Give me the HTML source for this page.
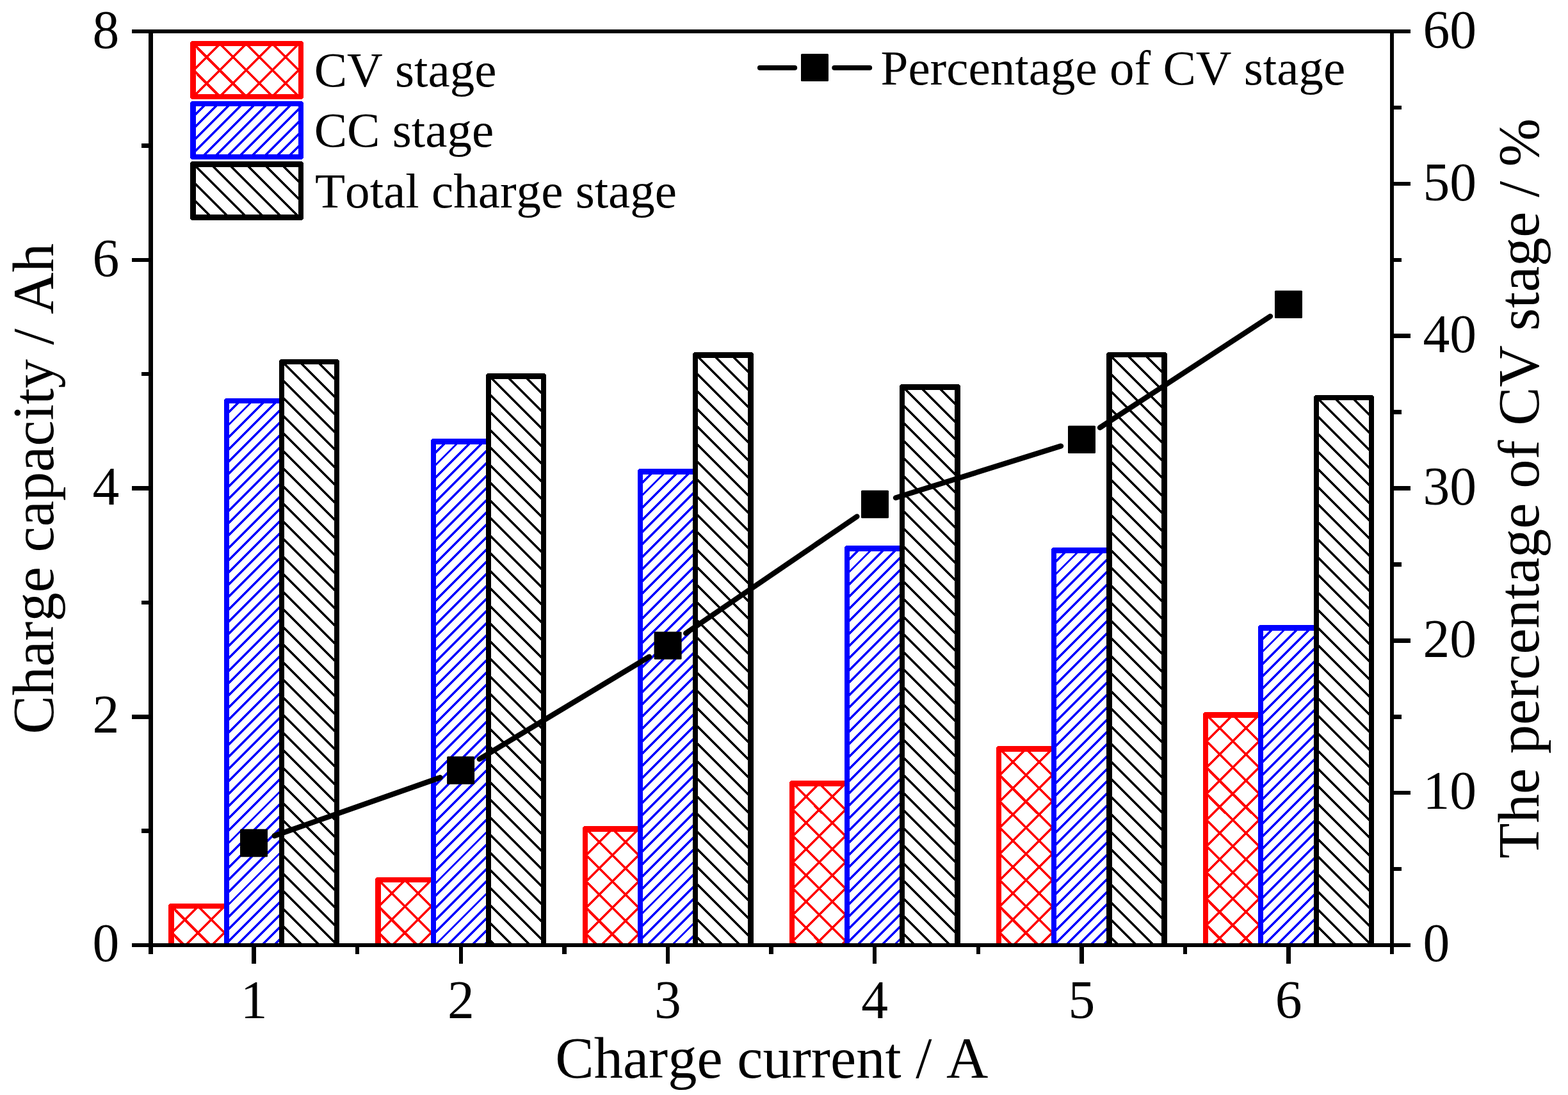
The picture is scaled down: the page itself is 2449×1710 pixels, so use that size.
<!DOCTYPE html>
<html lang="en"><head><meta charset="utf-8"><title>Charge capacity vs charge current</title>
<style>html,body{margin:0;padding:0;background:#fff}svg{display:block}</style></head>
<body>
<svg xmlns="http://www.w3.org/2000/svg" width="2449" height="1710" viewBox="0 0 2449 1710">
<rect width="2449" height="1710" fill="#fff"/>
<defs>
<clipPath id="c1"><rect x="272.00" y="1419.00" width="78.00" height="57.00"/></clipPath>
<clipPath id="c2"><rect x="595.00" y="1378.00" width="78.00" height="98.00"/></clipPath>
<clipPath id="c3"><rect x="918.00" y="1299.00" width="78.00" height="177.00"/></clipPath>
<clipPath id="c4"><rect x="1241.00" y="1228.00" width="78.00" height="248.00"/></clipPath>
<clipPath id="c5"><rect x="1564.00" y="1174.00" width="78.00" height="302.00"/></clipPath>
<clipPath id="c6"><rect x="1887.00" y="1121.00" width="78.00" height="355.00"/></clipPath>
<clipPath id="c7"><rect x="358.00" y="630.00" width="78.00" height="846.00"/></clipPath>
<clipPath id="c8"><rect x="681.00" y="694.00" width="78.00" height="782.00"/></clipPath>
<clipPath id="c9"><rect x="1004.00" y="741.00" width="78.00" height="735.00"/></clipPath>
<clipPath id="c10"><rect x="1327.00" y="861.00" width="78.00" height="615.00"/></clipPath>
<clipPath id="c11"><rect x="1650.00" y="864.00" width="79.00" height="612.00"/></clipPath>
<clipPath id="c12"><rect x="1973.00" y="985.00" width="79.00" height="491.00"/></clipPath>
<clipPath id="c13"><rect x="444.00" y="569.00" width="78.00" height="907.00"/></clipPath>
<clipPath id="c14"><rect x="767.00" y="592.00" width="78.00" height="884.00"/></clipPath>
<clipPath id="c15"><rect x="1090.00" y="559.00" width="78.00" height="917.00"/></clipPath>
<clipPath id="c16"><rect x="1413.00" y="609.00" width="78.00" height="867.00"/></clipPath>
<clipPath id="c17"><rect x="1737.00" y="558.00" width="77.00" height="918.00"/></clipPath>
<clipPath id="c18"><rect x="2060.00" y="625.00" width="78.00" height="851.00"/></clipPath>
<clipPath id="c19"><rect x="306.00" y="72.00" width="160.00" height="75.00"/></clipPath>
<clipPath id="c20"><rect x="306.00" y="166.00" width="160.00" height="75.00"/></clipPath>
<clipPath id="c21"><rect x="306.00" y="260.70" width="160.00" height="74.60"/></clipPath>
</defs>
<g shape-rendering="crispEdges">
<path d="M266.00 1454.30L293.70 1482.00M266.00 1413.30L334.70 1482.00M306.70 1413.00L356.00 1462.30M347.70 1413.00L356.00 1421.30M266.00 1417.70L270.70 1413.00M266.00 1458.70L311.70 1413.00M283.70 1482.00L352.70 1413.00M324.70 1482.00L356.00 1450.70" stroke="#ff0000" stroke-width="3.80" fill="none" clip-path="url(#c1)"/>
<path fill-rule="evenodd" fill="#ff0000" d="M265.60 1411.00L358.00 1411.00L358.00 1411.00L358.00 1476.00L358.00 1476.00L263.00 1476.00L263.00 1476.00L263.00 1413.60L265.60 1411.00ZM272.00 1419.00H350.00V1476.00H272.00Z"/>
<path d="M589.00 1454.30L616.70 1482.00M589.00 1413.30L657.70 1482.00M589.00 1372.30L679.00 1462.30M629.70 1372.00L679.00 1421.30M670.70 1372.00L679.00 1380.30M589.00 1376.70L593.70 1372.00M589.00 1417.70L634.70 1372.00M589.00 1458.70L675.70 1372.00M606.70 1482.00L679.00 1409.70M647.70 1482.00L679.00 1450.70" stroke="#ff0000" stroke-width="3.80" fill="none" clip-path="url(#c2)"/>
<path fill-rule="evenodd" fill="#ff0000" d="M588.60 1370.00L681.00 1370.00L681.00 1370.00L681.00 1476.00L681.00 1476.00L586.00 1476.00L586.00 1476.00L586.00 1372.60L588.60 1370.00ZM595.00 1378.00H673.00V1476.00H595.00Z"/>
<path d="M912.00 1455.30L938.70 1482.00M912.00 1414.30L979.70 1482.00M912.00 1373.30L1002.00 1463.30M912.00 1332.30L1002.00 1422.30M913.70 1293.00L1002.00 1381.30M954.70 1293.00L1002.00 1340.30M995.70 1293.00L1002.00 1299.30M912.00 1297.70L916.70 1293.00M912.00 1338.70L957.70 1293.00M912.00 1379.70L998.70 1293.00M912.00 1420.70L1002.00 1330.70M912.00 1461.70L1002.00 1371.70M932.70 1482.00L1002.00 1412.70M973.70 1482.00L1002.00 1453.70" stroke="#ff0000" stroke-width="3.80" fill="none" clip-path="url(#c3)"/>
<path fill-rule="evenodd" fill="#ff0000" d="M912.60 1290.00L1004.00 1290.00L1004.00 1290.00L1004.00 1476.00L1004.00 1476.00L910.00 1476.00L910.00 1476.00L910.00 1292.60L912.60 1290.00ZM918.00 1299.00H996.00V1476.00H918.00Z"/>
<path d="M1235.00 1466.30L1250.70 1482.00M1235.00 1425.30L1291.70 1482.00M1235.00 1384.30L1325.00 1474.30M1235.00 1343.30L1325.00 1433.30M1235.00 1302.30L1325.00 1392.30M1235.00 1261.30L1325.00 1351.30M1236.70 1222.00L1325.00 1310.30M1277.70 1222.00L1325.00 1269.30M1318.70 1222.00L1325.00 1228.30M1235.00 1226.70L1239.70 1222.00M1235.00 1267.70L1280.70 1222.00M1235.00 1308.70L1321.70 1222.00M1235.00 1349.70L1325.00 1259.70M1235.00 1390.70L1325.00 1300.70M1235.00 1431.70L1325.00 1341.70M1235.00 1472.70L1325.00 1382.70M1266.70 1482.00L1325.00 1423.70M1307.70 1482.00L1325.00 1464.70" stroke="#ff0000" stroke-width="3.80" fill="none" clip-path="url(#c4)"/>
<path fill-rule="evenodd" fill="#ff0000" d="M1235.60 1219.00L1327.00 1219.00L1327.00 1219.00L1327.00 1476.00L1327.00 1476.00L1233.00 1476.00L1233.00 1476.00L1233.00 1221.60L1235.60 1219.00ZM1241.00 1228.00H1319.00V1476.00H1241.00Z"/>
<path d="M1558.00 1453.30L1586.70 1482.00M1558.00 1412.30L1627.70 1482.00M1558.00 1371.30L1648.00 1461.30M1558.00 1330.30L1648.00 1420.30M1558.00 1289.30L1648.00 1379.30M1558.00 1248.30L1648.00 1338.30M1558.00 1207.30L1648.00 1297.30M1559.70 1168.00L1648.00 1256.30M1600.70 1168.00L1648.00 1215.30M1641.70 1168.00L1648.00 1174.30M1558.00 1172.70L1562.70 1168.00M1558.00 1213.70L1603.70 1168.00M1558.00 1254.70L1644.70 1168.00M1558.00 1295.70L1648.00 1205.70M1558.00 1336.70L1648.00 1246.70M1558.00 1377.70L1648.00 1287.70M1558.00 1418.70L1648.00 1328.70M1558.00 1459.70L1648.00 1369.70M1576.70 1482.00L1648.00 1410.70M1617.70 1482.00L1648.00 1451.70" stroke="#ff0000" stroke-width="3.80" fill="none" clip-path="url(#c5)"/>
<path fill-rule="evenodd" fill="#ff0000" d="M1558.60 1165.00L1650.00 1165.00L1650.00 1165.00L1650.00 1476.00L1650.00 1476.00L1556.00 1476.00L1556.00 1476.00L1556.00 1167.60L1558.60 1165.00ZM1564.00 1174.00H1642.00V1476.00H1564.00Z"/>
<path d="M1881.00 1441.30L1921.70 1482.00M1881.00 1400.30L1962.70 1482.00M1881.00 1359.30L1971.00 1449.30M1881.00 1318.30L1971.00 1408.30M1881.00 1277.30L1971.00 1367.30M1881.00 1236.30L1971.00 1326.30M1881.00 1195.30L1971.00 1285.30M1881.00 1154.30L1971.00 1244.30M1882.70 1115.00L1971.00 1203.30M1923.70 1115.00L1971.00 1162.30M1964.70 1115.00L1971.00 1121.30M1881.00 1119.70L1885.70 1115.00M1881.00 1160.70L1926.70 1115.00M1881.00 1201.70L1967.70 1115.00M1881.00 1242.70L1971.00 1152.70M1881.00 1283.70L1971.00 1193.70M1881.00 1324.70L1971.00 1234.70M1881.00 1365.70L1971.00 1275.70M1881.00 1406.70L1971.00 1316.70M1881.00 1447.70L1971.00 1357.70M1887.70 1482.00L1971.00 1398.70M1928.70 1482.00L1971.00 1439.70M1969.70 1482.00L1971.00 1480.70" stroke="#ff0000" stroke-width="3.80" fill="none" clip-path="url(#c6)"/>
<path fill-rule="evenodd" fill="#ff0000" d="M1881.60 1112.00L1973.00 1112.00L1973.00 1112.00L1973.00 1476.00L1973.00 1476.00L1879.00 1476.00L1879.00 1476.00L1879.00 1114.60L1881.60 1112.00ZM1887.00 1121.00H1965.00V1476.00H1887.00Z"/>
<path d="M352.00 630.10L358.10 624.00M352.00 649.31L377.31 624.00M352.00 668.51L396.51 624.00M352.00 687.71L415.71 624.00M352.00 706.92L434.92 624.00M352.00 726.12L442.00 636.12M352.00 745.33L442.00 655.33M352.00 764.53L442.00 674.53M352.00 783.74L442.00 693.74M352.00 802.94L442.00 712.94M352.00 822.15L442.00 732.15M352.00 841.36L442.00 751.36M352.00 860.56L442.00 770.56M352.00 879.76L442.00 789.76M352.00 898.97L442.00 808.97M352.00 918.17L442.00 828.17M352.00 937.38L442.00 847.38M352.00 956.59L442.00 866.59M352.00 975.79L442.00 885.79M352.00 994.99L442.00 904.99M352.00 1014.20L442.00 924.20M352.00 1033.40L442.00 943.40M352.00 1052.61L442.00 962.61M352.00 1071.82L442.00 981.82M352.00 1091.02L442.00 1001.02M352.00 1110.22L442.00 1020.22M352.00 1129.43L442.00 1039.43M352.00 1148.63L442.00 1058.63M352.00 1167.84L442.00 1077.84M352.00 1187.05L442.00 1097.05M352.00 1206.25L442.00 1116.25M352.00 1225.45L442.00 1135.45M352.00 1244.66L442.00 1154.66M352.00 1263.87L442.00 1173.87M352.00 1283.07L442.00 1193.07M352.00 1302.28L442.00 1212.28M352.00 1321.48L442.00 1231.48M352.00 1340.68L442.00 1250.68M352.00 1359.89L442.00 1269.89M352.00 1379.09L442.00 1289.09M352.00 1398.30L442.00 1308.30M352.00 1417.51L442.00 1327.51M352.00 1436.71L442.00 1346.71M352.00 1455.91L442.00 1365.91M352.00 1475.12L442.00 1385.12M364.32 1482.00L442.00 1404.32M383.53 1482.00L442.00 1423.53M402.73 1482.00L442.00 1442.73M421.94 1482.00L442.00 1461.94M441.14 1482.00L442.00 1481.14" stroke="#0000ff" stroke-width="3.50" fill="none" clip-path="url(#c7)"/>
<path fill-rule="evenodd" fill="#0000ff" d="M352.60 622.00L444.00 622.00L444.00 622.00L444.00 1476.00L444.00 1476.00L350.00 1476.00L350.00 1476.00L350.00 624.60L352.60 622.00ZM358.00 630.00H436.00V1476.00H358.00Z"/>
<path d="M675.00 693.10L680.10 688.00M675.00 712.30L699.30 688.00M675.00 731.51L718.51 688.00M675.00 750.72L737.72 688.00M675.00 769.92L756.92 688.00M675.00 789.12L765.00 699.12M675.00 808.33L765.00 718.33M675.00 827.53L765.00 737.53M675.00 846.74L765.00 756.74M675.00 865.94L765.00 775.94M675.00 885.15L765.00 795.15M675.00 904.36L765.00 814.36M675.00 923.56L765.00 833.56M675.00 942.76L765.00 852.76M675.00 961.97L765.00 871.97M675.00 981.17L765.00 891.17M675.00 1000.38L765.00 910.38M675.00 1019.59L765.00 929.59M675.00 1038.79L765.00 948.79M675.00 1057.99L765.00 967.99M675.00 1077.20L765.00 987.20M675.00 1096.40L765.00 1006.40M675.00 1115.61L765.00 1025.61M675.00 1134.82L765.00 1044.82M675.00 1154.02L765.00 1064.02M675.00 1173.22L765.00 1083.22M675.00 1192.43L765.00 1102.43M675.00 1211.63L765.00 1121.63M675.00 1230.84L765.00 1140.84M675.00 1250.05L765.00 1160.05M675.00 1269.25L765.00 1179.25M675.00 1288.45L765.00 1198.45M675.00 1307.66L765.00 1217.66M675.00 1326.87L765.00 1236.87M675.00 1346.07L765.00 1256.07M675.00 1365.28L765.00 1275.28M675.00 1384.48L765.00 1294.48M675.00 1403.68L765.00 1313.68M675.00 1422.89L765.00 1332.89M675.00 1442.09L765.00 1352.09M675.00 1461.30L765.00 1371.30M675.00 1480.51L765.00 1390.51M692.71 1482.00L765.00 1409.71M711.91 1482.00L765.00 1428.91M731.12 1482.00L765.00 1448.12M750.32 1482.00L765.00 1467.32" stroke="#0000ff" stroke-width="3.50" fill="none" clip-path="url(#c8)"/>
<path fill-rule="evenodd" fill="#0000ff" d="M675.60 685.00L767.00 685.00L767.00 685.00L767.00 1476.00L767.00 1476.00L673.00 1476.00L673.00 1476.00L673.00 687.60L675.60 685.00ZM681.00 694.00H759.00V1476.00H681.00Z"/>
<path d="M998.00 740.10L1003.10 735.00M998.00 759.31L1022.31 735.00M998.00 778.51L1041.51 735.00M998.00 797.71L1060.71 735.00M998.00 816.92L1079.92 735.00M998.00 836.12L1088.00 746.12M998.00 855.33L1088.00 765.33M998.00 874.54L1088.00 784.54M998.00 893.74L1088.00 803.74M998.00 912.94L1088.00 822.94M998.00 932.15L1088.00 842.15M998.00 951.36L1088.00 861.36M998.00 970.56L1088.00 880.56M998.00 989.76L1088.00 899.76M998.00 1008.97L1088.00 918.97M998.00 1028.17L1088.00 938.17M998.00 1047.38L1088.00 957.38M998.00 1066.59L1088.00 976.59M998.00 1085.79L1088.00 995.79M998.00 1104.99L1088.00 1014.99M998.00 1124.20L1088.00 1034.20M998.00 1143.40L1088.00 1053.40M998.00 1162.61L1088.00 1072.61M998.00 1181.82L1088.00 1091.82M998.00 1201.02L1088.00 1111.02M998.00 1220.22L1088.00 1130.22M998.00 1239.43L1088.00 1149.43M998.00 1258.64L1088.00 1168.64M998.00 1277.84L1088.00 1187.84M998.00 1297.05L1088.00 1207.05M998.00 1316.25L1088.00 1226.25M998.00 1335.45L1088.00 1245.45M998.00 1354.66L1088.00 1264.66M998.00 1373.86L1088.00 1283.86M998.00 1393.07L1088.00 1303.07M998.00 1412.28L1088.00 1322.28M998.00 1431.48L1088.00 1341.48M998.00 1450.68L1088.00 1360.68M998.00 1469.89L1088.00 1379.89M1005.09 1482.00L1088.00 1399.09M1024.30 1482.00L1088.00 1418.30M1043.51 1482.00L1088.00 1437.51M1062.71 1482.00L1088.00 1456.71M1081.91 1482.00L1088.00 1475.91" stroke="#0000ff" stroke-width="3.50" fill="none" clip-path="url(#c9)"/>
<path fill-rule="evenodd" fill="#0000ff" d="M998.60 732.00L1090.00 732.00L1090.00 732.00L1090.00 1476.00L1090.00 1476.00L996.00 1476.00L996.00 1476.00L996.00 734.60L998.60 732.00ZM1004.00 741.00H1082.00V1476.00H1004.00Z"/>
<path d="M1321.00 860.10L1326.10 855.00M1321.00 879.31L1345.31 855.00M1321.00 898.51L1364.51 855.00M1321.00 917.72L1383.72 855.00M1321.00 936.92L1402.92 855.00M1321.00 956.12L1411.00 866.12M1321.00 975.33L1411.00 885.33M1321.00 994.53L1411.00 904.53M1321.00 1013.74L1411.00 923.74M1321.00 1032.94L1411.00 942.94M1321.00 1052.15L1411.00 962.15M1321.00 1071.36L1411.00 981.36M1321.00 1090.56L1411.00 1000.56M1321.00 1109.76L1411.00 1019.76M1321.00 1128.97L1411.00 1038.97M1321.00 1148.18L1411.00 1058.18M1321.00 1167.38L1411.00 1077.38M1321.00 1186.59L1411.00 1096.59M1321.00 1205.79L1411.00 1115.79M1321.00 1224.99L1411.00 1134.99M1321.00 1244.20L1411.00 1154.20M1321.00 1263.40L1411.00 1173.40M1321.00 1282.61L1411.00 1192.61M1321.00 1301.82L1411.00 1211.82M1321.00 1321.02L1411.00 1231.02M1321.00 1340.22L1411.00 1250.22M1321.00 1359.43L1411.00 1269.43M1321.00 1378.64L1411.00 1288.64M1321.00 1397.84L1411.00 1307.84M1321.00 1417.05L1411.00 1327.05M1321.00 1436.25L1411.00 1346.25M1321.00 1455.45L1411.00 1365.45M1321.00 1474.66L1411.00 1384.66M1332.86 1482.00L1411.00 1403.86M1352.07 1482.00L1411.00 1423.07M1371.28 1482.00L1411.00 1442.28M1390.48 1482.00L1411.00 1461.48M1409.68 1482.00L1411.00 1480.68" stroke="#0000ff" stroke-width="3.50" fill="none" clip-path="url(#c10)"/>
<path fill-rule="evenodd" fill="#0000ff" d="M1321.60 852.00L1413.00 852.00L1413.00 852.00L1413.00 1476.00L1413.00 1476.00L1319.00 1476.00L1319.00 1476.00L1319.00 854.60L1321.60 852.00ZM1327.00 861.00H1405.00V1476.00H1327.00Z"/>
<path d="M1644.00 863.10L1649.10 858.00M1644.00 882.31L1668.31 858.00M1644.00 901.51L1687.51 858.00M1644.00 920.72L1706.72 858.00M1644.00 939.92L1725.92 858.00M1644.00 959.12L1735.00 868.12M1644.00 978.33L1735.00 887.33M1644.00 997.53L1735.00 906.53M1644.00 1016.74L1735.00 925.74M1644.00 1035.94L1735.00 944.94M1644.00 1055.15L1735.00 964.15M1644.00 1074.36L1735.00 983.36M1644.00 1093.56L1735.00 1002.56M1644.00 1112.76L1735.00 1021.76M1644.00 1131.97L1735.00 1040.97M1644.00 1151.18L1735.00 1060.18M1644.00 1170.38L1735.00 1079.38M1644.00 1189.59L1735.00 1098.59M1644.00 1208.79L1735.00 1117.79M1644.00 1227.99L1735.00 1136.99M1644.00 1247.20L1735.00 1156.20M1644.00 1266.40L1735.00 1175.40M1644.00 1285.61L1735.00 1194.61M1644.00 1304.82L1735.00 1213.82M1644.00 1324.02L1735.00 1233.02M1644.00 1343.22L1735.00 1252.22M1644.00 1362.43L1735.00 1271.43M1644.00 1381.64L1735.00 1290.64M1644.00 1400.84L1735.00 1309.84M1644.00 1420.05L1735.00 1329.05M1644.00 1439.25L1735.00 1348.25M1644.00 1458.45L1735.00 1367.45M1644.00 1477.66L1735.00 1386.66M1658.86 1482.00L1735.00 1405.86M1678.07 1482.00L1735.00 1425.07M1697.28 1482.00L1735.00 1444.28M1716.48 1482.00L1735.00 1463.48" stroke="#0000ff" stroke-width="3.50" fill="none" clip-path="url(#c11)"/>
<path fill-rule="evenodd" fill="#0000ff" d="M1644.60 855.00L1737.00 855.00L1737.00 855.00L1737.00 1476.00L1737.00 1476.00L1642.00 1476.00L1642.00 1476.00L1642.00 857.60L1644.60 855.00ZM1650.00 864.00H1729.00V1476.00H1650.00Z"/>
<path d="M1967.00 984.10L1972.10 979.00M1967.00 1003.31L1991.31 979.00M1967.00 1022.51L2010.51 979.00M1967.00 1041.72L2029.72 979.00M1967.00 1060.92L2048.92 979.00M1967.00 1080.12L2058.00 989.12M1967.00 1099.33L2058.00 1008.33M1967.00 1118.53L2058.00 1027.53M1967.00 1137.74L2058.00 1046.74M1967.00 1156.95L2058.00 1065.95M1967.00 1176.15L2058.00 1085.15M1967.00 1195.36L2058.00 1104.36M1967.00 1214.56L2058.00 1123.56M1967.00 1233.76L2058.00 1142.76M1967.00 1252.97L2058.00 1161.97M1967.00 1272.18L2058.00 1181.18M1967.00 1291.38L2058.00 1200.38M1967.00 1310.59L2058.00 1219.59M1967.00 1329.79L2058.00 1238.79M1967.00 1348.99L2058.00 1257.99M1967.00 1368.20L2058.00 1277.20M1967.00 1387.40L2058.00 1296.40M1967.00 1406.61L2058.00 1315.61M1967.00 1425.82L2058.00 1334.82M1967.00 1445.02L2058.00 1354.02M1967.00 1464.22L2058.00 1373.22M1968.43 1482.00L2058.00 1392.43M1987.64 1482.00L2058.00 1411.64M2006.84 1482.00L2058.00 1430.84M2026.05 1482.00L2058.00 1450.05M2045.25 1482.00L2058.00 1469.25" stroke="#0000ff" stroke-width="3.50" fill="none" clip-path="url(#c12)"/>
<path fill-rule="evenodd" fill="#0000ff" d="M1967.60 976.00L2060.00 976.00L2060.00 976.00L2060.00 1476.00L2060.00 1476.00L1965.00 1476.00L1965.00 1476.00L1965.00 978.60L1967.60 976.00ZM1973.00 985.00H2052.00V1476.00H1973.00Z"/>
<path d="M438.00 1469.90L450.10 1482.00M438.00 1442.40L477.60 1482.00M438.00 1414.90L505.10 1482.00M438.00 1387.40L528.00 1477.40M438.00 1359.90L528.00 1449.90M438.00 1332.40L528.00 1422.40M438.00 1304.90L528.00 1394.90M438.00 1277.40L528.00 1367.40M438.00 1249.90L528.00 1339.90M438.00 1222.40L528.00 1312.40M438.00 1194.90L528.00 1284.90M438.00 1167.40L528.00 1257.40M438.00 1139.90L528.00 1229.90M438.00 1112.40L528.00 1202.40M438.00 1084.90L528.00 1174.90M438.00 1057.40L528.00 1147.40M438.00 1029.90L528.00 1119.90M438.00 1002.40L528.00 1092.40M438.00 974.90L528.00 1064.90M438.00 947.40L528.00 1037.40M438.00 919.90L528.00 1009.90M438.00 892.40L528.00 982.40M438.00 864.90L528.00 954.90M438.00 837.40L528.00 927.40M438.00 809.90L528.00 899.90M438.00 782.40L528.00 872.40M438.00 754.90L528.00 844.90M438.00 727.40L528.00 817.40M438.00 699.90L528.00 789.90M438.00 672.40L528.00 762.40M438.00 644.90L528.00 734.90M438.00 617.40L528.00 707.40M438.00 589.90L528.00 679.90M438.60 563.00L528.00 652.40M466.10 563.00L528.00 624.90M493.60 563.00L528.00 597.40M521.10 563.00L528.00 569.90" stroke="#000000" stroke-width="3.60" fill="none" clip-path="url(#c13)"/>
<path fill-rule="evenodd" fill="#000000" d="M438.60 561.00L527.40 561.00L530.00 563.60L530.00 1476.00L530.00 1476.00L436.00 1476.00L436.00 1476.00L436.00 563.60L438.60 561.00ZM444.00 569.00H522.00V1476.00H444.00Z"/>
<path d="M761.00 1464.40L778.60 1482.00M761.00 1436.90L806.10 1482.00M761.00 1409.40L833.60 1482.00M761.00 1381.90L851.00 1471.90M761.00 1354.40L851.00 1444.40M761.00 1326.90L851.00 1416.90M761.00 1299.40L851.00 1389.40M761.00 1271.90L851.00 1361.90M761.00 1244.40L851.00 1334.40M761.00 1216.90L851.00 1306.90M761.00 1189.40L851.00 1279.40M761.00 1161.90L851.00 1251.90M761.00 1134.40L851.00 1224.40M761.00 1106.90L851.00 1196.90M761.00 1079.40L851.00 1169.40M761.00 1051.90L851.00 1141.90M761.00 1024.40L851.00 1114.40M761.00 996.90L851.00 1086.90M761.00 969.40L851.00 1059.40M761.00 941.90L851.00 1031.90M761.00 914.40L851.00 1004.40M761.00 886.90L851.00 976.90M761.00 859.40L851.00 949.40M761.00 831.90L851.00 921.90M761.00 804.40L851.00 894.40M761.00 776.90L851.00 866.90M761.00 749.40L851.00 839.40M761.00 721.90L851.00 811.90M761.00 694.40L851.00 784.40M761.00 666.90L851.00 756.90M761.00 639.40L851.00 729.40M761.00 611.90L851.00 701.90M762.60 586.00L851.00 674.40M790.10 586.00L851.00 646.90M817.60 586.00L851.00 619.40M845.10 586.00L851.00 591.90" stroke="#000000" stroke-width="3.60" fill="none" clip-path="url(#c14)"/>
<path fill-rule="evenodd" fill="#000000" d="M761.60 583.00L850.40 583.00L853.00 585.60L853.00 1476.00L853.00 1476.00L759.00 1476.00L759.00 1476.00L759.00 585.60L761.60 583.00ZM767.00 592.00H845.00V1476.00H767.00Z"/>
<path d="M1084.00 1458.90L1107.10 1482.00M1084.00 1431.40L1134.60 1482.00M1084.00 1403.90L1162.10 1482.00M1084.00 1376.40L1174.00 1466.40M1084.00 1348.90L1174.00 1438.90M1084.00 1321.40L1174.00 1411.40M1084.00 1293.90L1174.00 1383.90M1084.00 1266.40L1174.00 1356.40M1084.00 1238.90L1174.00 1328.90M1084.00 1211.40L1174.00 1301.40M1084.00 1183.90L1174.00 1273.90M1084.00 1156.40L1174.00 1246.40M1084.00 1128.90L1174.00 1218.90M1084.00 1101.40L1174.00 1191.40M1084.00 1073.90L1174.00 1163.90M1084.00 1046.40L1174.00 1136.40M1084.00 1018.90L1174.00 1108.90M1084.00 991.40L1174.00 1081.40M1084.00 963.90L1174.00 1053.90M1084.00 936.40L1174.00 1026.40M1084.00 908.90L1174.00 998.90M1084.00 881.40L1174.00 971.40M1084.00 853.90L1174.00 943.90M1084.00 826.40L1174.00 916.40M1084.00 798.90L1174.00 888.90M1084.00 771.40L1174.00 861.40M1084.00 743.90L1174.00 833.90M1084.00 716.40L1174.00 806.40M1084.00 688.90L1174.00 778.90M1084.00 661.40L1174.00 751.40M1084.00 633.90L1174.00 723.90M1084.00 606.40L1174.00 696.40M1084.00 578.90L1174.00 668.90M1085.60 553.00L1174.00 641.40M1113.10 553.00L1174.00 613.90M1140.60 553.00L1174.00 586.40M1168.10 553.00L1174.00 558.90" stroke="#000000" stroke-width="3.60" fill="none" clip-path="url(#c15)"/>
<path fill-rule="evenodd" fill="#000000" d="M1084.60 550.00L1174.40 550.00L1177.00 552.60L1177.00 1476.00L1177.00 1476.00L1082.00 1476.00L1082.00 1476.00L1082.00 552.60L1084.60 550.00ZM1090.00 559.00H1168.00V1476.00H1090.00Z"/>
<path d="M1407.00 1481.40L1407.60 1482.00M1407.00 1453.90L1435.10 1482.00M1407.00 1426.40L1462.60 1482.00M1407.00 1398.90L1490.10 1482.00M1407.00 1371.40L1497.00 1461.40M1407.00 1343.90L1497.00 1433.90M1407.00 1316.40L1497.00 1406.40M1407.00 1288.90L1497.00 1378.90M1407.00 1261.40L1497.00 1351.40M1407.00 1233.90L1497.00 1323.90M1407.00 1206.40L1497.00 1296.40M1407.00 1178.90L1497.00 1268.90M1407.00 1151.40L1497.00 1241.40M1407.00 1123.90L1497.00 1213.90M1407.00 1096.40L1497.00 1186.40M1407.00 1068.90L1497.00 1158.90M1407.00 1041.40L1497.00 1131.40M1407.00 1013.90L1497.00 1103.90M1407.00 986.40L1497.00 1076.40M1407.00 958.90L1497.00 1048.90M1407.00 931.40L1497.00 1021.40M1407.00 903.90L1497.00 993.90M1407.00 876.40L1497.00 966.40M1407.00 848.90L1497.00 938.90M1407.00 821.40L1497.00 911.40M1407.00 793.90L1497.00 883.90M1407.00 766.40L1497.00 856.40M1407.00 738.90L1497.00 828.90M1407.00 711.40L1497.00 801.40M1407.00 683.90L1497.00 773.90M1407.00 656.40L1497.00 746.40M1407.00 628.90L1497.00 718.90M1408.60 603.00L1497.00 691.40M1436.10 603.00L1497.00 663.90M1463.60 603.00L1497.00 636.40M1491.10 603.00L1497.00 608.90" stroke="#000000" stroke-width="3.60" fill="none" clip-path="url(#c16)"/>
<path fill-rule="evenodd" fill="#000000" d="M1407.60 600.00L1497.40 600.00L1500.00 602.60L1500.00 1476.00L1500.00 1476.00L1405.00 1476.00L1405.00 1476.00L1405.00 602.60L1407.60 600.00ZM1413.00 609.00H1491.00V1476.00H1413.00Z"/>
<path d="M1731.00 1459.90L1753.10 1482.00M1731.00 1432.40L1780.60 1482.00M1731.00 1404.90L1808.10 1482.00M1731.00 1377.40L1820.00 1466.40M1731.00 1349.90L1820.00 1438.90M1731.00 1322.40L1820.00 1411.40M1731.00 1294.90L1820.00 1383.90M1731.00 1267.40L1820.00 1356.40M1731.00 1239.90L1820.00 1328.90M1731.00 1212.40L1820.00 1301.40M1731.00 1184.90L1820.00 1273.90M1731.00 1157.40L1820.00 1246.40M1731.00 1129.90L1820.00 1218.90M1731.00 1102.40L1820.00 1191.40M1731.00 1074.90L1820.00 1163.90M1731.00 1047.40L1820.00 1136.40M1731.00 1019.90L1820.00 1108.90M1731.00 992.40L1820.00 1081.40M1731.00 964.90L1820.00 1053.90M1731.00 937.40L1820.00 1026.40M1731.00 909.90L1820.00 998.90M1731.00 882.40L1820.00 971.40M1731.00 854.90L1820.00 943.90M1731.00 827.40L1820.00 916.40M1731.00 799.90L1820.00 888.90M1731.00 772.40L1820.00 861.40M1731.00 744.90L1820.00 833.90M1731.00 717.40L1820.00 806.40M1731.00 689.90L1820.00 778.90M1731.00 662.40L1820.00 751.40M1731.00 634.90L1820.00 723.90M1731.00 607.40L1820.00 696.40M1731.00 579.90L1820.00 668.90M1731.00 552.40L1820.00 641.40M1758.10 552.00L1820.00 613.90M1785.60 552.00L1820.00 586.40M1813.10 552.00L1820.00 558.90" stroke="#000000" stroke-width="3.60" fill="none" clip-path="url(#c17)"/>
<path fill-rule="evenodd" fill="#000000" d="M1730.60 550.00L1820.40 550.00L1823.00 552.60L1823.00 1476.00L1823.00 1476.00L1728.00 1476.00L1728.00 1476.00L1728.00 552.60L1730.60 550.00ZM1737.00 558.00H1814.00V1476.00H1737.00Z"/>
<path d="M2054.00 1470.90L2065.10 1482.00M2054.00 1443.40L2092.60 1482.00M2054.00 1415.90L2120.10 1482.00M2054.00 1388.40L2144.00 1478.40M2054.00 1360.90L2144.00 1450.90M2054.00 1333.40L2144.00 1423.40M2054.00 1305.90L2144.00 1395.90M2054.00 1278.40L2144.00 1368.40M2054.00 1250.90L2144.00 1340.90M2054.00 1223.40L2144.00 1313.40M2054.00 1195.90L2144.00 1285.90M2054.00 1168.40L2144.00 1258.40M2054.00 1140.90L2144.00 1230.90M2054.00 1113.40L2144.00 1203.40M2054.00 1085.90L2144.00 1175.90M2054.00 1058.40L2144.00 1148.40M2054.00 1030.90L2144.00 1120.90M2054.00 1003.40L2144.00 1093.40M2054.00 975.90L2144.00 1065.90M2054.00 948.40L2144.00 1038.40M2054.00 920.90L2144.00 1010.90M2054.00 893.40L2144.00 983.40M2054.00 865.90L2144.00 955.90M2054.00 838.40L2144.00 928.40M2054.00 810.90L2144.00 900.90M2054.00 783.40L2144.00 873.40M2054.00 755.90L2144.00 845.90M2054.00 728.40L2144.00 818.40M2054.00 700.90L2144.00 790.90M2054.00 673.40L2144.00 763.40M2054.00 645.90L2144.00 735.90M2054.60 619.00L2144.00 708.40M2082.10 619.00L2144.00 680.90M2109.60 619.00L2144.00 653.40M2137.10 619.00L2144.00 625.90" stroke="#000000" stroke-width="3.60" fill="none" clip-path="url(#c18)"/>
<path fill-rule="evenodd" fill="#000000" d="M2054.60 617.00L2143.40 617.00L2146.00 619.60L2146.00 1476.00L2146.00 1476.00L2052.00 1476.00L2052.00 1476.00L2052.00 619.60L2054.60 617.00ZM2060.00 625.00H2138.00V1476.00H2060.00Z"/>
</g>
<path d="M428.58 1305.23L687.52 1214.27M748.72 1185.45L1013.98 1025.65M1071.19 988.94L1338.41 806.66M1398.95 777.34L1657.05 696.56M1717.96 667.81L1984.04 493.99" stroke="#000" stroke-width="8.30" stroke-linecap="round" fill="none"/>
<rect x="375.00" y="1294.80" width="43.00" height="43.40" rx="1.5" fill="#000"/>
<rect x="698.10" y="1181.30" width="43.00" height="43.40" rx="1.5" fill="#000"/>
<rect x="1021.60" y="986.40" width="43.00" height="43.40" rx="1.5" fill="#000"/>
<rect x="1345.00" y="765.80" width="43.00" height="43.40" rx="1.5" fill="#000"/>
<rect x="1668.00" y="664.70" width="43.00" height="43.40" rx="1.5" fill="#000"/>
<rect x="1991.00" y="453.70" width="43.00" height="43.40" rx="1.5" fill="#000"/>
<g fill="#000" shape-rendering="crispEdges">
<rect x="232.00" y="46.00" width="7.00" height="1433.00"/>
<rect x="2171.00" y="46.00" width="6.00" height="1433.00"/>
<rect x="232.00" y="46.00" width="1945.00" height="6.00"/>
<rect x="232.00" y="1473.00" width="1945.00" height="6.00"/>
<rect x="206.00" y="1473.00" width="26.00" height="6.00"/>
<rect x="221.00" y="1294.38" width="11.00" height="6.50"/>
<rect x="206.00" y="1116.00" width="26.00" height="6.50"/>
<rect x="221.00" y="937.62" width="11.00" height="6.50"/>
<rect x="206.00" y="759.25" width="26.00" height="6.50"/>
<rect x="221.00" y="580.88" width="11.00" height="6.50"/>
<rect x="206.00" y="402.50" width="26.00" height="6.50"/>
<rect x="221.00" y="224.12" width="11.00" height="6.50"/>
<rect x="206.00" y="46.00" width="26.00" height="6.00"/>
<rect x="2177.00" y="1473.00" width="26.00" height="6.00"/>
<rect x="2177.00" y="1353.83" width="12.00" height="6.50"/>
<rect x="2177.00" y="1234.92" width="26.00" height="6.50"/>
<rect x="2177.00" y="1116.00" width="12.00" height="6.50"/>
<rect x="2177.00" y="997.08" width="26.00" height="6.50"/>
<rect x="2177.00" y="878.17" width="12.00" height="6.50"/>
<rect x="2177.00" y="759.25" width="26.00" height="6.50"/>
<rect x="2177.00" y="640.33" width="12.00" height="6.50"/>
<rect x="2177.00" y="521.42" width="26.00" height="6.50"/>
<rect x="2177.00" y="402.50" width="12.00" height="6.50"/>
<rect x="2177.00" y="283.58" width="26.00" height="6.50"/>
<rect x="2177.00" y="164.67" width="12.00" height="6.50"/>
<rect x="2177.00" y="46.00" width="26.00" height="6.00"/>
<rect x="232.00" y="1479.00" width="7.00" height="11.00"/>
<rect x="393.35" y="1479.00" width="6.50" height="26.00"/>
<rect x="554.95" y="1479.00" width="6.50" height="11.00"/>
<rect x="716.55" y="1479.00" width="6.50" height="26.00"/>
<rect x="878.15" y="1479.00" width="6.50" height="11.00"/>
<rect x="1039.75" y="1479.00" width="6.50" height="26.00"/>
<rect x="1201.35" y="1479.00" width="6.50" height="11.00"/>
<rect x="1362.95" y="1479.00" width="6.50" height="26.00"/>
<rect x="1524.55" y="1479.00" width="6.50" height="11.00"/>
<rect x="1686.15" y="1479.00" width="6.50" height="26.00"/>
<rect x="1847.75" y="1479.00" width="6.50" height="11.00"/>
<rect x="2009.35" y="1479.00" width="6.50" height="26.00"/>
<rect x="2171.00" y="1479.00" width="6.00" height="11.00"/>
</g>
<g shape-rendering="crispEdges">
<path d="M300.00 148.30L304.70 153.00M300.00 107.30L345.70 153.00M300.00 66.30L386.70 153.00M340.70 66.00L427.70 153.00M381.70 66.00L468.70 153.00M422.70 66.00L472.00 115.30M463.70 66.00L472.00 74.30M300.00 70.70L304.70 66.00M300.00 111.70L345.70 66.00M300.00 152.70L386.70 66.00M340.70 153.00L427.70 66.00M381.70 153.00L468.70 66.00M422.70 153.00L472.00 103.70M463.70 153.00L472.00 144.70" stroke="#ff0000" stroke-width="3.80" fill="none" clip-path="url(#c19)"/>
<path fill-rule="evenodd" fill="#ff0000" d="M299.60 64.00L471.40 64.00L474.00 66.60L474.00 152.40L471.40 155.00L299.60 155.00L297.00 152.40L297.00 66.60L299.60 64.00ZM306.00 72.00H466.00V147.00H306.00Z"/>
<path d="M300.00 164.60L304.60 160.00M300.00 183.81L323.81 160.00M300.00 203.01L343.01 160.00M300.00 222.21L362.21 160.00M300.00 241.42L381.42 160.00M313.62 247.00L400.62 160.00M332.83 247.00L419.83 160.00M352.03 247.00L439.03 160.00M371.24 247.00L458.24 160.00M390.44 247.00L472.00 165.44M409.65 247.00L472.00 184.65M428.86 247.00L472.00 203.86M448.06 247.00L472.00 223.06M467.26 247.00L472.00 242.26" stroke="#0000ff" stroke-width="3.50" fill="none" clip-path="url(#c20)"/>
<path fill-rule="evenodd" fill="#0000ff" d="M299.60 158.00L471.40 158.00L474.00 160.60L474.00 246.40L471.40 249.00L299.60 249.00L297.00 246.40L297.00 160.60L299.60 158.00ZM306.00 166.00H466.00V241.00H306.00Z"/>
<path d="M300.00 336.90L304.40 341.30M300.00 309.40L331.90 341.30M300.00 281.90L359.40 341.30M300.30 254.70L386.90 341.30M327.80 254.70L414.40 341.30M355.30 254.70L441.90 341.30M382.80 254.70L469.40 341.30M410.30 254.70L472.00 316.40M437.80 254.70L472.00 288.90M465.30 254.70L472.00 261.40" stroke="#000000" stroke-width="3.60" fill="none" clip-path="url(#c21)"/>
<path fill-rule="evenodd" fill="#000000" d="M299.60 252.00L471.40 252.00L474.00 254.60L474.00 341.40L471.40 344.00L299.60 344.00L297.00 341.40L297.00 254.60L299.60 252.00ZM306.00 260.70H466.00V335.30H306.00Z"/>
</g>
<path d="M1186.80 105.80H1241.30M1303.20 105.80H1358.30" stroke="#000" stroke-width="7.8" stroke-linecap="round" fill="none"/>
<rect x="1251.00" y="84.00" width="43" height="43" rx="1.5" fill="#000"/>
<g fill="#000" font-family="'Liberation Serif', 'Times New Roman', serif" style="font-kerning:none">
<text x="490.70" y="135.30" font-size="77.10" text-anchor="start">CV stage</text>
<text x="490.70" y="229.20" font-size="77.10" text-anchor="start">CC stage</text>
<text x="492.00" y="324.00" font-size="77.10" text-anchor="start">Total charge stage</text>
<text x="1375.50" y="131.90" font-size="77.10" text-anchor="start">Percentage of CV stage</text>
<text x="186.30" y="1500.95" font-size="83.60" text-anchor="end">0</text>
<text x="186.30" y="1144.49" font-size="83.60" text-anchor="end">2</text>
<text x="186.30" y="788.02" font-size="83.60" text-anchor="end">4</text>
<text x="186.30" y="431.56" font-size="83.60" text-anchor="end">6</text>
<text x="186.30" y="75.10" font-size="83.60" text-anchor="end">8</text>
<text x="2222.50" y="1500.95" font-size="83.60" text-anchor="start">0</text>
<text x="2222.50" y="1263.31" font-size="83.60" text-anchor="start">10</text>
<text x="2222.50" y="1025.67" font-size="83.60" text-anchor="start">20</text>
<text x="2222.50" y="788.02" font-size="83.60" text-anchor="start">30</text>
<text x="2222.50" y="550.38" font-size="83.60" text-anchor="start">40</text>
<text x="2222.50" y="312.74" font-size="83.60" text-anchor="start">50</text>
<text x="2222.50" y="75.10" font-size="83.60" text-anchor="start">60</text>
<text x="396.60" y="1590.30" font-size="83.60" text-anchor="middle">1</text>
<text x="719.80" y="1590.30" font-size="83.60" text-anchor="middle">2</text>
<text x="1043.00" y="1590.30" font-size="83.60" text-anchor="middle">3</text>
<text x="1366.20" y="1590.30" font-size="83.60" text-anchor="middle">4</text>
<text x="1689.40" y="1590.30" font-size="83.60" text-anchor="middle">5</text>
<text x="2012.60" y="1590.30" font-size="83.60" text-anchor="middle">6</text>
<text x="1205.30" y="1683.00" font-size="90.50" text-anchor="middle">Charge current / A</text>
<text transform="translate(83.00 763.30) rotate(-90)" font-size="90.50" text-anchor="middle">Charge capacity / Ah</text>
<text transform="translate(2402.60 762.70) rotate(-90)" font-size="90.50" text-anchor="middle">The percentage of CV stage / %</text>
</g>
</svg>
</body></html>
